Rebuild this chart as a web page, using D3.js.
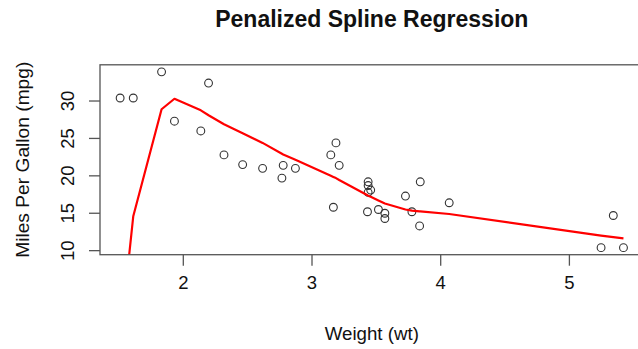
<!DOCTYPE html>
<html><head><meta charset="utf-8">
<script src="https://cdn.jsdelivr.net/npm/d3@7"></script>
<style>body{margin:0;background:#fff}svg{display:block}</style>
</head><body>
<script>
// mtcars: weight (1000 lbs) and miles per gallon
const wt  = [2.620,2.875,2.320,3.215,3.440,3.460,3.570,3.190,3.150,3.440,3.440,4.070,3.730,3.780,5.250,5.424,5.345,2.200,1.615,1.835,2.465,3.520,3.435,3.840,3.845,1.935,2.140,1.513,3.170,2.770,3.570,2.780];
const mpg = [21.0,21.0,22.8,21.4,18.7,18.1,14.3,24.4,22.8,19.2,17.8,16.4,17.3,15.2,10.4,10.4,14.7,32.4,30.4,33.9,21.5,15.5,15.2,13.3,19.2,27.3,26.0,30.4,15.8,19.7,15.0,21.4];
// fitted penalized spline values at sorted unique weights
const fitWt  = [1.513,1.615,1.835,1.935,2.140,2.200,2.320,2.465,2.620,2.770,2.780,2.875,3.150,3.170,3.190,3.215,3.435,3.440,3.460,3.520,3.570,3.730,3.780,3.840,3.845,4.070,5.250,5.345,5.424];
const fitMpg = [-2.0,14.6,28.9,30.3,28.75,28.1,26.9,25.7,24.4,22.95,22.85,22.15,20.0,19.85,19.7,19.45,17.4,17.35,17.2,16.7,16.3,15.5,15.35,15.25,15.25,14.9,12.0,11.8,11.65];
const xTicks = [2,3,4,5];
const yTicks = [10,15,20,25,30];
const title = "Penalized Spline Regression";
const xLabel = "Weight (wt)";
const yLabel = "Miles Per Gallon (mpg)";

const W = 638, H = 349;
const pL = 100, pR = 643.6, pT = 64.8, pB = 254.7;
const xr = d3.extent(wt), yr = d3.extent(mpg);
const xpad = (xr[1]-xr[0])*0.04, ypad = (yr[1]-yr[0])*0.04;
const x = d3.scaleLinear().domain([xr[0]-xpad, xr[1]+xpad]).range([pL, pR]);
const y = d3.scaleLinear().domain([yr[0]-ypad, yr[1]+ypad]).range([pB, pT]);
const FONT = "'Liberation Sans', Arial, sans-serif";

const svg = d3.select("body").append("svg").attr("width", W).attr("height", H)
  .style("font-family", FONT);

svg.append("defs").append("clipPath").attr("id","clip")
  .append("rect").attr("x",pL).attr("y",pT).attr("width",pR-pL).attr("height",pB-pT);

// points
svg.append("g").selectAll("circle").data(wt.map((d,i)=>[d,mpg[i]])).join("circle")
  .attr("cx", d=>x(d[0])).attr("cy", d=>y(d[1])).attr("r", 3.9)
  .attr("fill","none").attr("stroke","#333").attr("stroke-width",1.1);

// fitted line
svg.append("path").attr("clip-path","url(#clip)")
  .datum(fitWt.map((d,i)=>[d,fitMpg[i]]))
  .attr("d", d3.line().x(d=>x(d[0])).y(d=>y(d[1])))
  .attr("fill","none").attr("stroke","#ff0000").attr("stroke-width",2.2).attr("stroke-linejoin","round");

// box
svg.append("rect").attr("x",pL).attr("y",pT).attr("width",pR-pL).attr("height",pB-pT)
  .attr("fill","none").attr("stroke","#555").attr("stroke-width",1.3);

// x axis
const xa = svg.append("g").attr("transform",`translate(0,${pB})`)
  .call(d3.axisBottom(x).tickValues(xTicks).tickFormat(d3.format("d")).tickSize(11).tickPadding(10));
xa.select(".domain").remove();
xa.selectAll("line").attr("stroke","#555").attr("stroke-width",1.3);
xa.selectAll("text").attr("font-size",18.5).attr("fill","#111").style("font-family",FONT);

// y axis
const ya = svg.append("g").attr("transform",`translate(${pL},0)`)
  .call(d3.axisLeft(y).tickValues(yTicks).tickFormat(d3.format("d")).tickSize(11));
ya.select(".domain").remove();
ya.selectAll("line").attr("stroke","#555").attr("stroke-width",1.3);
ya.selectAll(".tick").attr("transform",null);
ya.selectAll(".tick line").attr("y1",d=>y(d)).attr("y2",d=>y(d));
ya.selectAll("text").attr("font-size",18.5).attr("fill","#111")
  .style("font-family",FONT)
  .attr("x",null).attr("dy",null).attr("y",0).attr("text-anchor","middle")
  .attr("transform", d=>`translate(${74-pL},${y(d)}) rotate(-90)`);

// title and labels
svg.append("text").attr("x",(pL+pR)/2).attr("y",27).attr("text-anchor","middle")
  .attr("font-size",23).attr("font-weight","bold").attr("fill","#111").text(title);
svg.append("text").attr("x",(pL+pR)/2).attr("y",340).attr("text-anchor","middle")
  .attr("font-size",18.7).attr("fill","#111").text(xLabel);
svg.append("text").attr("transform",`translate(29,${(pT+pB)/2}) rotate(-90)`).attr("text-anchor","middle")
  .attr("font-size",19.2).attr("fill","#111").text(yLabel);
</script>
</body></html>
